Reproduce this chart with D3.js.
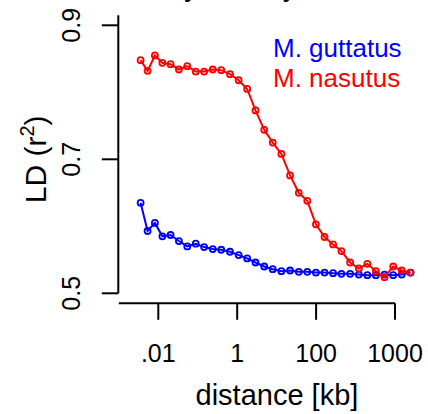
<!DOCTYPE html>
<html>
<head>
<meta charset="utf-8">
<script src="https://cdn.jsdelivr.net/npm/d3@7"></script>
<style>
  html, body { margin: 0; padding: 0; background: #fff; }
  svg { display: block; font-family: "Liberation Sans", Arial, Helvetica, sans-serif; }
</style>
</head>
<body>
<svg id="chart" width="428" height="414"></svg>
<script>
// Pairwise distance bins (kb), shared by both species
const distanceKb = [0.00356, 0.00535, 0.0082, 0.0127, 0.0205, 0.0333, 0.0542, 0.0889,
  0.145, 0.240, 0.394, 0.656, 1.09, 1.79, 2.91, 4.84, 7.96, 13.2, 21.9, 36.4, 59.8,
  98.9, 164, 270, 439, 729, 1213, 1991, 3273, 5420, 8995, 14791, 24717];

// Mean r^2 per distance bin
const guttatusLD = [0.635, 0.593, 0.605, 0.585, 0.587, 0.578, 0.570, 0.574, 0.569, 0.566,
  0.565, 0.562, 0.557, 0.552, 0.546, 0.540, 0.536, 0.533, 0.534, 0.532, 0.532, 0.531,
  0.531, 0.530, 0.529, 0.529, 0.528, 0.527, 0.527, 0.528, 0.527, 0.528, 0.531];
const nasutusLD = [0.848, 0.832, 0.855, 0.844, 0.842, 0.834, 0.839, 0.831, 0.831, 0.834,
  0.833, 0.827, 0.818, 0.805, 0.773, 0.744, 0.725, 0.708, 0.676, 0.650, 0.638, 0.603,
  0.584, 0.573, 0.563, 0.546, 0.537, 0.544, 0.533, 0.524, 0.540, 0.534, 0.531];

const seriesNames = ["M. guttatus", "M. nasutus"];
const seriesColors = ["#0000ff", "#ff0000"];

// Axis ticks and their printed labels
const xTickValues = [0.01, 1, 100, 10000];
const xTickLabels = [".01", "1", "100", "1000"];
const yTickValues = [0.5, 0.7, 0.9];
const yTickLabels = ["0.5", "0.7", "0.9"];

const titleText = "Decay of LD by taxon";
const xTitle = "distance [kb]";

const svg = d3.select("#chart");

const x = d3.scaleLog().domain([0.01, 10000]).range([158.3, 395]);
const y = d3.scaleLinear().domain([0.5, 0.9]).range([293.3, 25.3]);

const xAxisY = 303.3;
const yAxisX = 118.3;
const tickLen = 16.5;

// Title (sits mostly above the drawing area)
svg.append("text")
  .attr("x", 246).attr("y", -3)
  .attr("text-anchor", "middle")
  .attr("font-size", 23).attr("font-weight", "bold")
  .attr("fill", "#000")
  .text(titleText);

// X axis
const xAxisG = svg.append("g").attr("transform", `translate(0,${xAxisY})`);
xAxisG.append("line")
  .attr("x1", x(0.001)).attr("x2", x(10000))
  .attr("y1", 0).attr("y2", 0)
  .attr("stroke", "#000").attr("stroke-width", 2);
xAxisG.selectAll("line.tick").data(xTickValues).join("line")
  .attr("class", "tick")
  .attr("x1", d => x(d)).attr("x2", d => x(d))
  .attr("y1", 0).attr("y2", tickLen)
  .attr("stroke", "#000").attr("stroke-width", 2);
xAxisG.selectAll("text").data(xTickValues).join("text")
  .attr("x", d => x(d)).attr("y", 58.4)
  .attr("text-anchor", "middle")
  .attr("font-size", 25)
  .attr("fill", "#000")
  .text((d, i) => xTickLabels[i]);

svg.append("text")
  .attr("x", (x(0.001) + x(10000)) / 2 + 20).attr("y", 405)
  .attr("text-anchor", "middle")
  .attr("font-size", 29)
  .attr("fill", "#000")
  .text(xTitle);

// Y axis
const yAxisG = svg.append("g").attr("transform", `translate(${yAxisX},0)`);
yAxisG.append("line")
  .attr("x1", 0).attr("x2", 0)
  .attr("y1", y(0.5)).attr("y2", y(0.915))
  .attr("stroke", "#000").attr("stroke-width", 2);
yAxisG.selectAll("line.tick").data(yTickValues).join("line")
  .attr("class", "tick")
  .attr("x1", -tickLen).attr("x2", 0)
  .attr("y1", d => y(d)).attr("y2", d => y(d))
  .attr("stroke", "#000").attr("stroke-width", 2);
yAxisG.selectAll("text").data(yTickValues).join("text")
  .attr("transform", d => `translate(-38,${y(d)}) rotate(-90)`)
  .attr("text-anchor", "middle")
  .attr("font-size", 25)
  .attr("fill", "#000")
  .text((d, i) => yTickLabels[i]);

const yTitle = svg.append("text")
  .attr("transform", `translate(46,${y(0.7)}) rotate(-90)`)
  .attr("text-anchor", "middle")
  .attr("font-size", 30)
  .attr("fill", "#000");
yTitle.append("tspan").text("LD (r");
yTitle.append("tspan").attr("font-size", 20).attr("dy", -12).text("2");
yTitle.append("tspan").attr("dy", 12).text(")");

// Data series: lines with open circle markers
const series = [guttatusLD, nasutusLD];
const line = d3.line()
  .x(d => x(d[0]))
  .y(d => y(d[1]));

series.forEach((vals, si) => {
  const pts = distanceKb.map((d, i) => [d, vals[i]]);
  const g = svg.append("g");
  g.append("path")
    .attr("d", line(pts))
    .attr("fill", "none")
    .attr("stroke", seriesColors[si])
    .attr("stroke-width", 2);
  g.selectAll("circle").data(pts).join("circle")
    .attr("cx", d => x(d[0])).attr("cy", d => y(d[1]))
    .attr("r", 3)
    .attr("fill", "none")
    .attr("stroke", seriesColors[si])
    .attr("stroke-width", 1.8);
});

// Legend
svg.selectAll("text.legend").data(seriesNames).join("text")
  .attr("class", "legend")
  .attr("x", 273).attr("y", (d, i) => 56.7 + i * 30.6)
  .attr("font-size", 26)
  .attr("fill", (d, i) => seriesColors[i])
  .text(d => d);
</script>
</body>
</html>
